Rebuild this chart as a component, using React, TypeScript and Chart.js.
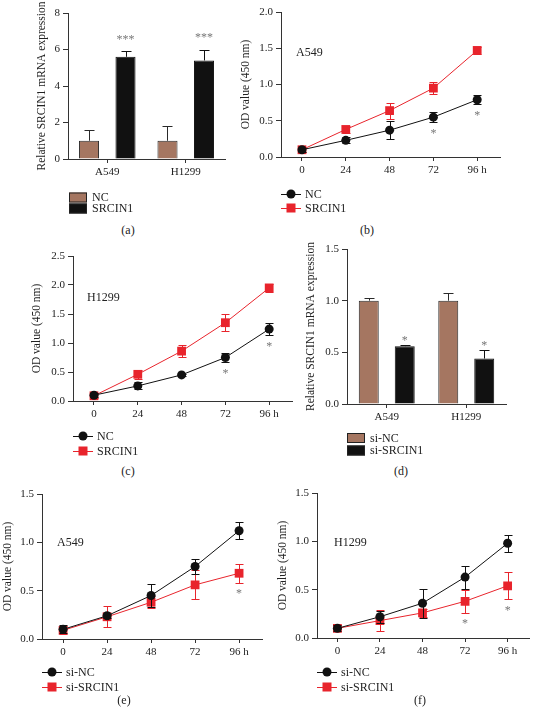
import React, { useEffect, useRef } from "react";
import { Chart, registerables } from "chart.js";
Chart.register(...registerables);

const FONT = "'Liberation Serif', 'Times New Roman', serif";
const BROWN = "#a57661";
const RED = "#e8242c";
const BLACK = "#111111";
const INK = "#222222";
const AXIS = "#333333";

// ---------- (a) SRCIN1 overexpression, qPCR ----------
const catsA = ["A549", "H1299"];
const ncA = [1.0, 1.0];
const ncAErr = [0.6, 0.8];
const srcA = [5.6, 5.4];
const srcAErr = [0.3, 0.6];
const starsA = ["***", "***"];
const yTicksA = [0, 2, 4, 6, 8];

// ---------- shared time points ----------
const hours = [0, 24, 48, 72, 96];

// ---------- (b) A549 CCK-8, overexpression ----------
const ncB = [0.1, 0.23, 0.37, 0.55, 0.79];
const ncBErr = [0.03, 0.04, 0.12, 0.07, 0.06];
const srcB = [0.1, 0.38, 0.64, 0.95, 1.47];
const srcBErr = [0.03, 0.05, 0.11, 0.08, 0.05];
const starsB = ["", "", "", "*", "*"];
const yTicksB = [0, 0.5, 1.0, 1.5, 2.0];

// ---------- (c) H1299 CCK-8, overexpression ----------
const ncC = [0.1, 0.26, 0.45, 0.75, 1.24];
const ncCErr = [0.03, 0.06, 0.02, 0.08, 0.11];
const srcC = [0.09, 0.46, 0.86, 1.35, 1.95];
const srcCErr = [0.04, 0.08, 0.1, 0.15, 0.07];
const starsC = ["", "", "", "*", "*"];
const yTicksC = [0, 0.5, 1.0, 1.5, 2.0, 2.5];

// ---------- (d) knockdown qPCR ----------
const catsD = ["A549", "H1299"];
const siNcD = [1.0, 1.0];
const siNcDErr = [0.03, 0.07];
const siSrcD = [0.56, 0.44];
const siSrcDErr = [0.01, 0.08];
const starsD = ["*", "*"];
const yTicksD = [0, 0.5, 1.0, 1.5];

// ---------- (e) A549 CCK-8, knockdown ----------
const siNcE = [0.1, 0.24, 0.45, 0.75, 1.12];
const siNcEErr = [0.04, 0.02, 0.12, 0.08, 0.09];
const siSrcE = [0.09, 0.23, 0.38, 0.56, 0.68];
const siSrcEErr = [0.04, 0.11, 0.06, 0.15, 0.1];
const starsE = ["", "", "", "", "*"];
const yTicksE = [0, 0.5, 1.0, 1.5];

// ---------- (f) H1299 CCK-8, knockdown ----------
const siNcF = [0.1, 0.22, 0.36, 0.63, 0.98];
const siNcFErr = [0.03, 0.06, 0.15, 0.12, 0.09];
const siSrcF = [0.1, 0.18, 0.26, 0.38, 0.54];
const siSrcFErr = [0.03, 0.11, 0.04, 0.12, 0.14];
const starsF = ["", "", "", "*", "*"];
const yTicksF = [0, 0.5, 1.0, 1.5];

// ---------- plugins ----------
function valueOf(raw: any): number {
  return typeof raw === "number" ? raw : raw.y;
}

function drawErr(chart: any, i: number, phase: string) {
  const ds: any = chart.data.datasets[i];
  if (!ds.errors || ds.errorPhase !== phase) return;
  const meta = chart.getDatasetMeta(i);
  const ys = chart.scales[meta.yAxisID];
  const ctx = chart.ctx;
  ctx.save();
  ctx.strokeStyle = ds.errorColor;
  ctx.lineWidth = 1;
  const cap = ds.errorCap / 2;
  meta.data.forEach((el: any, j: number) => {
    const v = valueOf(ds.data[j]);
    const e = ds.errors[j];
    const x = Math.round(el.x) + 0.5;
    const yt = Math.round(ys.getPixelForValue(v + e)) + 0.5;
    const yb = ds.errorUpOnly ? el.y : Math.round(ys.getPixelForValue(v - e)) + 0.5;
    ctx.beginPath();
    ctx.moveTo(x, yb);
    ctx.lineTo(x, yt);
    ctx.moveTo(x - cap, yt);
    ctx.lineTo(x + cap, yt);
    if (!ds.errorUpOnly) {
      ctx.moveTo(x - cap, yb);
      ctx.lineTo(x + cap, yb);
    }
    ctx.stroke();
  });
  ctx.restore();
}

const errorBarPlugin = {
  id: "errorBars",
  beforeDatasetDraw(chart: any, args: any) {
    drawErr(chart, args.index, "before");
  },
  afterDatasetDraw(chart: any, args: any) {
    drawErr(chart, args.index, "after");
  },
};

const starPlugin = {
  id: "stars",
  afterDatasetsDraw(chart: any) {
    const ctx = chart.ctx;
    chart.data.datasets.forEach((ds: any, i: number) => {
      if (!ds.stars) return;
      const meta = chart.getDatasetMeta(i);
      const ys = chart.scales[meta.yAxisID];
      ctx.save();
      ctx.fillStyle = "#777777";
      ctx.font = `12px ${FONT}`;
      ctx.textAlign = "center";
      ctx.textBaseline = "alphabetic";
      meta.data.forEach((el: any, j: number) => {
        const s = ds.stars[j];
        if (!s) return;
        const v = valueOf(ds.data[j]);
        const e = ds.errors[j];
        let cy;
        if (ds.starMode === "above") cy = ys.getPixelForValue(v + e) - ds.starGap;
        else cy = ys.getPixelForValue(v - e) + ds.starGap;
        ctx.fillText(s, el.x, cy + 6.5);
      });
      ctx.restore();
    });
  },
};

const legendPlugin = {
  id: "sideLegend",
  afterDraw(chart: any, _args: any, opts: any) {
    if (!opts || !opts.kind) return;
    const ctx = chart.ctx;
    const ca = chart.chartArea;
    ctx.save();
    ctx.font = `12px ${FONT}`;
    ctx.textBaseline = "middle";
    ctx.textAlign = "left";
    chart.data.datasets.forEach((ds: any, i: number) => {
      const y = ca.bottom + opts.dy + i * opts.gap;
      const x0 = ca.left + opts.dx;
      if (opts.kind === "bar") {
        ctx.fillStyle = ds.backgroundColor;
        ctx.fillRect(x0, y - 5, 18, 10);
        ctx.strokeStyle = "#222";
        ctx.lineWidth = 1;
        ctx.strokeRect(x0 + 0.5, y - 4.5, 17, 9);
        ctx.fillStyle = INK;
        ctx.fillText(ds.label, x0 + 23, y + 0.5);
      } else {
        const yy = Math.round(y) + 0.5;
        ctx.strokeStyle = ds.borderColor;
        ctx.lineWidth = 1;
        ctx.beginPath();
        ctx.moveTo(x0, yy);
        ctx.lineTo(x0 + 20, yy);
        ctx.stroke();
        ctx.fillStyle = ds.pointBackgroundColor;
        if (ds.pointStyle === "rect") {
          ctx.fillRect(x0 + 10 - 4.5, y - 4.5, 9, 9);
        } else {
          ctx.beginPath();
          ctx.arc(x0 + 10, y, 4.5, 0, Math.PI * 2);
          ctx.fill();
        }
        ctx.fillStyle = INK;
        ctx.fillText(ds.label, x0 + 24, y + 0.5);
      }
    });
    ctx.restore();
  },
};

const panelLabelPlugin = {
  id: "panelLabel",
  afterDraw(chart: any, _args: any, opts: any) {
    if (!opts || !opts.text) return;
    const ctx = chart.ctx;
    const ca = chart.chartArea;
    ctx.save();
    ctx.font = `12px ${FONT}`;
    ctx.fillStyle = INK;
    ctx.textAlign = "left";
    ctx.textBaseline = "middle";
    ctx.fillText(opts.text, ca.left + opts.dx, ca.top + opts.dy);
    ctx.restore();
  },
};

type Rect = { left: number; top: number; width: number; height: number };
type Area = { l: number; t: number; r: number; b: number };

function yScale(rect: Rect, area: Area, title: string, ticks: number[], digits: number) {
  return {
    min: ticks[0],
    max: ticks[ticks.length - 1],
    afterBuildTicks: (s: any) => {
      s.ticks = ticks.map((v) => ({ value: v }));
    },
    afterFit: (s: any) => {
      s.width = area.l - rect.left;
    },
    border: { display: true, color: AXIS, width: 1 },
    grid: { display: true, drawOnChartArea: false, drawTicks: true, tickLength: 5, color: AXIS },
    ticks: {
      color: INK,
      padding: 3,
      font: { family: FONT, size: 11 },
      callback: (v: any) => Number(v).toFixed(digits),
    },
    title: {
      display: true,
      text: title,
      color: INK,
      padding: { top: 0, bottom: 0 },
      font: { family: FONT, size: 11.5 },
    },
  };
}

function xAxisCommon(rect: Rect, area: Area) {
  return {
    afterFit: (s: any) => {
      s.height = rect.top + rect.height - area.b;
    },
    border: { display: true, color: AXIS, width: 1 },
    grid: { display: true, drawOnChartArea: false, drawTicks: true, tickLength: 4, color: AXIS, offset: false },
    ticks: { color: INK, padding: 3, autoSkip: false, maxRotation: 0, font: { family: FONT, size: 11 } },
  };
}

function lineDataset(label: string, vals: number[], errs: number[], color: string, style: string, stars?: string[]) {
  return {
    label,
    data: hours.map((h, i) => ({ x: h, y: vals[i] })),
    borderColor: color,
    borderWidth: 1,
    backgroundColor: color,
    pointBackgroundColor: color,
    pointBorderWidth: 0,
    pointStyle: style,
    pointRadius: style === "rect" ? 6.2 : 4.5,
    tension: 0,
    errors: errs,
    errorPhase: "before",
    errorColor: color,
    errorCap: 8,
    stars,
    starMode: "below",
    starGap: 8,
  };
}

function lineConfig(
  rect: Rect,
  area: Area,
  label: string,
  yTicks: number[],
  ds: any[],
  legendDy: number,
  legendGap: number,
  labelDx: number,
  labelDy: number
) {
  const x = xAxisCommon(rect, area);
  return {
    type: "line",
    data: { datasets: ds },
    options: {
      responsive: false,
      animation: false,
      layout: { padding: { top: area.t - rect.top, right: rect.left + rect.width - area.r, left: 0, bottom: 0 } },
      scales: {
        x: {
          ...x,
          type: "linear",
          min: -11.5,
          max: 108.5,
          afterBuildTicks: (s: any) => {
            s.ticks = hours.map((v) => ({ value: v }));
          },
          ticks: { ...x.ticks, callback: (v: any) => (v === 96 ? "96 h" : String(v)) },
        },
        y: yScale(rect, area, "OD value (450 nm)", yTicks, 1),
      },
      plugins: {
        legend: { display: false },
        tooltip: { enabled: false },
        sideLegend: { kind: "line", dx: 0, dy: legendDy, gap: legendGap },
        panelLabel: { text: label, dx: labelDx, dy: labelDy },
      },
    },
    plugins: [errorBarPlugin, starPlugin, legendPlugin, panelLabelPlugin],
  };
}

function barConfig(
  rect: Rect,
  area: Area,
  cats: string[],
  labels: string[],
  v1: number[],
  e1: number[],
  v2: number[],
  e2: number[],
  stars: string[],
  starGap: number,
  yTicks: number[],
  digits: number,
  cp: number,
  bp: number,
  legendDx: number,
  legendDy: number,
  legendGap: number
) {
  const x = xAxisCommon(rect, area);
  const common = { categoryPercentage: cp, barPercentage: bp, borderWidth: 1, errorPhase: "after", errorCap: 10, errorUpOnly: true };
  return {
    type: "bar",
    data: {
      labels: cats,
      datasets: [
        { ...common, label: labels[0], data: v1, backgroundColor: BROWN, borderColor: "#2a2a2a", errors: e1, errorColor: "#2a2a2a" },
        {
          ...common,
          label: labels[1],
          data: v2,
          backgroundColor: BLACK,
          borderColor: BLACK,
          errors: e2,
          errorColor: BLACK,
          stars,
          starMode: "above",
          starGap,
        },
      ],
    },
    options: {
      responsive: false,
      animation: false,
      layout: { padding: { top: area.t - rect.top, right: rect.left + rect.width - area.r, left: 0, bottom: 0 } },
      scales: {
        x: { ...x, type: "category", offset: true },
        y: yScale(rect, area, "Relative SRCIN1 mRNA expression", yTicks, digits),
      },
      plugins: {
        legend: { display: false },
        tooltip: { enabled: false },
        sideLegend: { kind: "bar", dx: legendDx, dy: legendDy, gap: legendGap },
      },
    },
    plugins: [errorBarPlugin, starPlugin, legendPlugin],
  };
}

function ChartPanel({ rect, make }: { rect: Rect; make: () => any }) {
  const ref = useRef<HTMLCanvasElement | null>(null);
  useEffect(() => {
    if (!ref.current) return;
    const chart = new Chart(ref.current, make());
    return () => chart.destroy();
  }, []);
  return (
    <canvas
      ref={ref}
      width={rect.width}
      height={rect.height}
      style={{ position: "absolute", left: rect.left, top: rect.top, width: rect.width, height: rect.height }}
    />
  );
}

function Caption({ text, cx, cy }: { text: string; cx: number; cy: number }) {
  return (
    <div
      style={{
        position: "absolute",
        left: cx - 20,
        top: cy - 7,
        width: 40,
        height: 14,
        lineHeight: "14px",
        textAlign: "center",
        fontFamily: FONT,
        fontSize: 12,
        color: INK,
      }}
    >
      {text}
    </div>
  );
}

const rA: Rect = { left: 35, top: 0, width: 201, height: 220 };
const aA: Area = { l: 68, t: 13, r: 225, b: 159 };
const rB: Rect = { left: 239, top: 0, width: 297, height: 220 };
const aB: Area = { l: 281, t: 12, r: 500, b: 157 };
const rC: Rect = { left: 30, top: 238, width: 270, height: 222 };
const aC: Area = { l: 73, t: 256, r: 292, b: 401 };
const rD: Rect = { left: 304, top: 238, width: 232, height: 222 };
const aD: Area = { l: 347, t: 249, r: 506, b: 404 };
const rE: Rect = { left: 1, top: 478, width: 274, height: 222 };
const aE: Area = { l: 42, t: 494, r: 262, b: 639 };
const rF: Rect = { left: 276, top: 478, width: 260, height: 222 };
const aF: Area = { l: 317, t: 493, r: 536, b: 638 };

export default function App() {
  return (
    <div style={{ position: "absolute", left: 0, top: 0, width: 536, height: 713, background: "#ffffff", overflow: "hidden" }}>
      <ChartPanel
        rect={rA}
        make={() =>
          barConfig(rA, aA, catsA, ["NC", "SRCIN1"], ncA, ncAErr, srcA, srcAErr, starsA, 15, yTicksA, 0, 0.93, 0.55, 1, 38.5, 11)
        }
      />
      <ChartPanel
        rect={rB}
        make={() =>
          lineConfig(
            rB,
            aB,
            "A549",
            yTicksB,
            [lineDataset("NC", ncB, ncBErr, BLACK, "circle", starsB), lineDataset("SRCIN1", srcB, srcBErr, RED, "rect")],
            37,
            14,
            15,
            41
          )
        }
      />
      <ChartPanel
        rect={rC}
        make={() =>
          lineConfig(
            rC,
            aC,
            "H1299",
            yTicksC,
            [lineDataset("NC", ncC, ncCErr, BLACK, "circle", starsC), lineDataset("SRCIN1", srcC, srcCErr, RED, "rect")],
            35,
            15,
            14,
            42
          )
        }
      />
      <ChartPanel
        rect={rD}
        make={() =>
          barConfig(rD, aD, catsD, ["si-NC", "si-SRCIN1"], siNcD, siNcDErr, siSrcD, siSrcDErr, starsD, 8, yTicksD, 1, 0.905, 0.555, 0, 34, 12.5)
        }
      />
      <ChartPanel
        rect={rE}
        make={() =>
          lineConfig(
            rE,
            aE,
            "A549",
            yTicksE,
            [lineDataset("si-NC", siNcE, siNcEErr, BLACK, "circle"), lineDataset("si-SRCIN1", siSrcE, siSrcEErr, RED, "rect", starsE)],
            33,
            15,
            15,
            49
          )
        }
      />
      <ChartPanel
        rect={rF}
        make={() =>
          lineConfig(
            rF,
            aF,
            "H1299",
            yTicksF,
            [lineDataset("si-NC", siNcF, siNcFErr, BLACK, "circle"), lineDataset("si-SRCIN1", siSrcF, siSrcFErr, RED, "rect", starsF)],
            34,
            15,
            17,
            50
          )
        }
      />
      <Caption text="(a)" cx={128} cy={230} />
      <Caption text="(b)" cx={367} cy={230} />
      <Caption text="(c)" cx={128} cy={471} />
      <Caption text="(d)" cx={401} cy={471} />
      <Caption text="(e)" cx={124} cy={700} />
      <Caption text="(f)" cx={420} cy={700} />
    </div>
  );
}
